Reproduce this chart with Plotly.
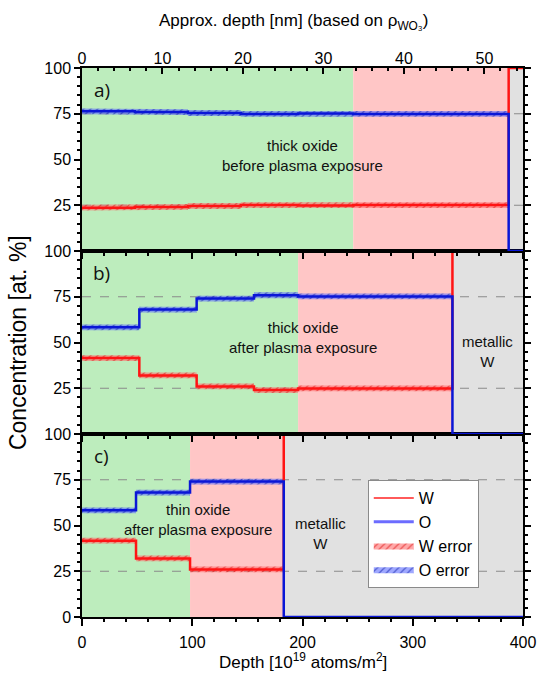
import plotly.graph_objects as go

# ---------------- data ----------------
# panel a) thick oxide before plasma exposure
a_edges = [0, 48, 96, 144, 196, 246, 387]
a_O = [76.3, 75.9, 75.4, 74.9, 75.2, 74.9]
a_W = [23.7, 24.1, 24.6, 25.1, 24.8, 25.1]
a_err = [1.6, 1.6, 1.6, 1.6, 1.6, 1.6]
a_green_end = 246
a_interface = 387

# panel b) thick oxide after plasma exposure
b_edges = [0, 52, 104, 156, 196, 336]
b_O = [58.3, 68.0, 74.0, 75.8, 75.2]
b_W = [41.5, 32.0, 26.0, 24.0, 24.9]
b_err = [1.6, 1.6, 1.6, 1.6, 1.6]
b_green_end = 196
b_interface = 336

# panel c) thin oxide after plasma exposure
c_edges = [0, 49, 98, 183]
c_O = [58.3, 68.0, 74.0]
c_W = [41.7, 32.0, 26.0]
c_err = [1.6, 1.6, 1.6]
c_green_end = 98
c_interface = 183

x_max = 400
nm_max = 54.8           # top axis: approx depth in nm
ref_levels = [25, 75]   # dashed guide lines
x_ticks = [0, 100, 200, 300, 400]
nm_ticks = [0, 10, 20, 30, 40, 50]

# ---------------- styles ----------------
RED = "#ff1414"
BLUE = "#0a16d6"
GREEN_BG = "#bdedbd"
RED_BG = "#ffc6c6"
GRAY_BG = "#e1e1e1"
FONT = "Liberation Sans, Arial, sans-serif"

fig = go.Figure()

panels = [
    (a_edges, a_O, a_W, a_err, a_green_end, a_interface, "y3", "x3"),
    (b_edges, b_O, b_W, b_err, b_green_end, b_interface, "y2", "x2"),
    (c_edges, c_O, c_W, c_err, c_green_end, c_interface, "y", "x"),
]

# legend-only entries for the lines
fig.add_trace(go.Scatter(x=[None], y=[None], mode="lines", name="W",
                         line=dict(color="#ff5a5a", width=2), legendrank=1))
fig.add_trace(go.Scatter(x=[None], y=[None], mode="lines", name="O",
                         line=dict(color="#6c6cff", width=3), legendrank=2))

shapes = []
for pi, (edges, O, W, err, g_end, iface, ya, xa) in enumerate(panels):
    yref_dom = ya + " domain"
    for x0, x1, col in [(0, g_end, GREEN_BG), (g_end, iface, RED_BG), (iface, x_max, GRAY_BG)]:
        shapes.append(dict(type="rect", xref=xa, yref=yref_dom, x0=x0, x1=x1, y0=0, y1=1,
                           fillcolor=col, line=dict(width=0), layer="below"))
    for lv in ref_levels:
        shapes.append(dict(type="line", xref=xa + " domain", yref=ya, x0=0, x1=1, y0=lv, y1=lv,
                           line=dict(color="#8a8a8a", width=1.2, dash="dash"), layer="below"))

    for vals, col, fg, name, rank in [(W, "rgba(255,110,110,0.6)", "#d80000", "W error", 3),
                                      (O, "rgba(95,110,255,0.6)", "#0010a0", "O error", 4)]:
        bx, by = [], []
        for i in range(len(vals)):
            bx += [edges[i], edges[i + 1]]
            by += [vals[i] + err[i], vals[i] + err[i]]
        for i in reversed(range(len(vals))):
            bx += [edges[i + 1], edges[i]]
            by += [vals[i] - err[i], vals[i] - err[i]]
        fig.add_trace(go.Scatter(
            x=bx, y=by, xaxis=xa, yaxis=ya, mode="lines", fill="toself",
            line=dict(width=0), fillcolor=col,
            fillpattern=dict(shape="/", fgcolor=fg, bgcolor=col, size=5, solidity=0.25),
            name=name, legendrank=rank, showlegend=(pi == 2), hoverinfo="skip"))

    wx = list(edges) + [x_max]
    wy = list(W) + [100, 100]
    ox = list(edges) + [x_max]
    oy = list(O) + [0, 0]
    fig.add_trace(go.Scatter(x=wx, y=wy, xaxis=xa, yaxis=ya, mode="lines",
                             line=dict(color=RED, width=2.5, shape="hv"),
                             showlegend=False, cliponaxis=False))
    fig.add_trace(go.Scatter(x=ox, y=oy, xaxis=xa, yaxis=ya, mode="lines",
                             line=dict(color=BLUE, width=2.5, shape="hv"),
                             showlegend=False, cliponaxis=False))

# dummy trace so that the top nm axis is drawn
fig.add_trace(go.Scatter(x=nm_ticks, y=[None] * len(nm_ticks), xaxis="x4", yaxis="y3",
                         mode="markers", showlegend=False, hoverinfo="skip"))

# ---------------- annotations ----------------
ann_font = dict(family=FONT, size=15, color="#111")
lab_font = dict(family="Open Sans, sans-serif", size=19, color="#111")
title_font = dict(family=FONT, size=17, color="black")
annotations = [
    dict(x=18, y=88, xref="x3", yref="y3", text="a)", showarrow=False, font=lab_font),
    dict(x=18, y=88, xref="x2", yref="y2", text="b)", showarrow=False, font=lab_font),
    dict(x=18, y=88, xref="x", yref="y", text="c)", showarrow=False, font=lab_font),
    dict(x=200, y=52, xref="x3", yref="y3", text="thick oxide<br>before plasma exposure",
         showarrow=False, font=ann_font),
    dict(x=200, y=53, xref="x2", yref="y2", text="thick oxide<br>after plasma exposure",
         showarrow=False, font=ann_font),
    dict(x=368, y=45, xref="x2", yref="y2", text="metallic<br>W", showarrow=False, font=ann_font),
    dict(x=105, y=53.5, xref="x", yref="y", text="thin oxide<br>after plasma exposure",
         showarrow=False, font=ann_font),
    dict(x=216, y=45.5, xref="x", yref="y", text="metallic<br>W", showarrow=False, font=ann_font),
    # axis titles
    dict(x=0.4807, y=1.0838, xref="paper", yref="paper", xanchor="center", yanchor="middle",
         text="Approx. depth [nm] (based on ρ<sub>WO₃</sub>)", showarrow=False, font=title_font),
    dict(x=0.5, y=-0.102, xref="paper", yref="paper", xanchor="center", yanchor="bottom",
         text="Depth [10<sup>19</sup> atoms/m<sup>2</sup>]", showarrow=False, font=title_font,
         borderpad=0),
    dict(x=-0.1451, y=0.499, xref="paper", yref="paper", xanchor="center", yanchor="middle",
         text="Concentration [at. %]", textangle=-90, showarrow=False,
         font=dict(family=FONT, size=23, color="black")),
]

tickfont = dict(family=FONT, size=16, color="black")
common_y = dict(range=[0, 100], showline=True, linecolor="black", linewidth=1.5, mirror="ticks",
                ticks="outside", ticklen=6, tickwidth=1.5, tickcolor="black",
                minor=dict(dtick=5, ticks="outside", ticklen=3, tickcolor="black"),
                showgrid=False, zeroline=False, tickfont=tickfont, automargin=False)
common_x = dict(range=[0, x_max], showline=True, linecolor="black", linewidth=1.5, mirror=True,
                ticks="outside", ticklen=6, tickwidth=1.5, tickcolor="black",
                tickvals=x_ticks,
                minor=dict(dtick=20, ticks="outside", ticklen=3, tickcolor="black"),
                showgrid=False, zeroline=False, tickfont=tickfont, automargin=False)

fig.update_layout(
    width=539, height=674,
    margin=dict(l=82, r=16, t=68, b=57),
    paper_bgcolor="white", plot_bgcolor="white",
    font=dict(family=FONT, size=16, color="black"),
    shapes=shapes, annotations=annotations,
    xaxis=dict(common_x, anchor="y", domain=[0, 1], ticklen=7, ticklabelstandoff=3),
    xaxis2=dict(common_x, anchor="y2", matches="x", showticklabels=False),
    xaxis3=dict(common_x, anchor="y3", matches="x", showticklabels=False),
    xaxis4=dict(overlaying="x3", side="top", anchor="y3", range=[0, nm_max],
                tickvals=nm_ticks, ticks="inside", ticklen=6, tickwidth=1.5, tickcolor="black",
                minor=dict(dtick=2, ticks="inside", ticklen=3, tickcolor="black"),
                showgrid=False, zeroline=False, showline=False, tickfont=tickfont,
                automargin=False),
    yaxis=dict(common_y, domain=[0, 1/3], anchor="x", tickvals=[0, 25, 50, 75, 100]),
    yaxis2=dict(common_y, domain=[1/3, 2/3], anchor="x2", tickvals=[25, 50, 75, 100]),
    yaxis3=dict(common_y, domain=[2/3, 1], anchor="x3", tickvals=[25, 50, 75, 100]),
    legend=dict(x=0.648, y=0.2495, xanchor="left", yanchor="top",
                bgcolor="white", bordercolor="#8a8a8a", borderwidth=1,
                font=dict(family=FONT, size=16, color="black"),
                itemwidth=40, tracegroupgap=0, traceorder="normal"),
    showlegend=True,
)

fig.write_html("out.html")
